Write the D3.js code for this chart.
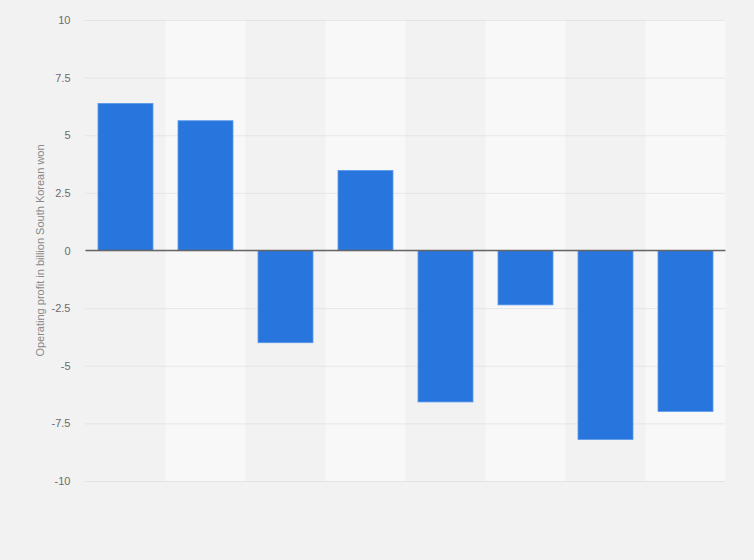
<!DOCTYPE html>
<html>
<head>
<meta charset="utf-8">
<script src="https://cdn.jsdelivr.net/npm/d3@7"></script>
<style>
  body { margin: 0; background: #f2f2f2; }
  svg { display: block; font-family: "Liberation Sans", Arial, sans-serif; }
</style>
</head>
<body>
<div id="chart"></div>
<script>
// data (no x labels are shown in it)
var categories = ["c1", "c2", "c3", "c4", "c5", "c6", "c7", "c8"];
var values = [6.38, 5.63, -4.0, 3.47, -6.57, -2.36, -8.2, -6.98];
var yTicks = [-10, -7.5, -5, -2.5, 0, 2.5, 5, 7.5, 10];
var yLabel = "Operating profit in billion South Korean won";

var w = 754;
var h = 560;
// plot edges (window.top is reserved, so prefix them)
var plotLeft = 85.5, plotRight = 725.5, plotTop = 20, plotBottom = 481;

var svg = d3.select("#chart")
    .append("svg")
    .attr("width", w)
    .attr("height", h);

svg.append("rect")
    .attr("width", w)
    .attr("height", h)
    .attr("fill", "#f2f2f2");

// column bands
var xBand = d3.scaleBand()
    .domain(categories)
    .range([plotLeft, plotRight])
    .padding(0);

var xBar = d3.scaleBand()
    .domain(categories)
    .range([plotLeft, plotRight])
    .paddingInner(0.3125)
    .paddingOuter(0.15625);

var yScale = d3.scaleLinear()
    .domain([-10, 10])
    .range([plotBottom, plotTop]);

svg.append("g")
    .selectAll("rect")
    .data(categories)
    .enter().append("rect")
    .attr("x", function (d) { return xBand(d); })
    .attr("y", plotTop)
    .attr("width", xBand.bandwidth())
    .attr("height", plotBottom - plotTop)
    .attr("fill", function (d, i) { return i % 2 == 0 ? "#f2f2f2" : "#f8f8f8"; });

// gridlines + tick labels (plain hyphen for negatives, like the original)
var yAxis = d3.axisLeft(yScale)
    .tickValues(yTicks)
    .tickSize(-(plotRight - plotLeft))
    .tickPadding(15)
    .tickFormat(function (d) { return String(d); });

var gy = svg.append("g")
    .attr("transform", "translate(" + plotLeft + ",0)")
    .call(yAxis);
gy.select(".domain").remove();
gy.selectAll(".tick line")
    .attr("stroke", "#d6d6d6")
    .attr("stroke-dasharray", "1,1");
gy.selectAll(".tick text")
    .attr("fill", "#6b6b6b")
    .style("font-size", "11px");

// bars
svg.append("g")
    .selectAll("rect")
    .data(values)
    .enter().append("rect")
    .attr("x", function (d, i) { return xBar(categories[i]); })
    .attr("y", function (d) { return yScale(Math.max(0, d)); })
    .attr("width", xBar.bandwidth())
    .attr("height", function (d) { return Math.abs(yScale(d) - yScale(0)); })
    .attr("fill", "#2876dd")
    .attr("stroke", "#5a98ea")
    .attr("stroke-width", 0.8);

// zero line
svg.append("line")
    .attr("x1", plotLeft)
    .attr("x2", plotRight)
    .attr("y1", yScale(0))
    .attr("y2", yScale(0))
    .attr("stroke", "#666")
    .attr("stroke-width", 1.5);

// axis title
svg.append("text")
    .attr("transform", "translate(44," + yScale(0) + ") rotate(-90)")
    .attr("text-anchor", "middle")
    .attr("fill", "#888")
    .style("font-size", "11px")
    .text(yLabel);
</script>
</body>
</html>
